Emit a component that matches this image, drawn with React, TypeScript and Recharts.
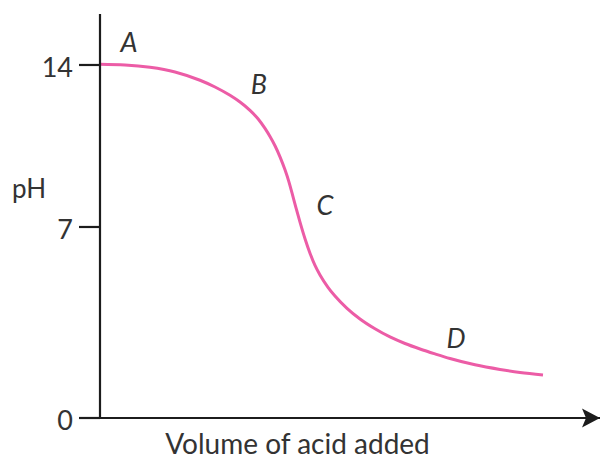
import React from 'react';
import { LineChart, Line, XAxis, YAxis, ReferenceDot } from 'recharts';

// Titration curve
const volume = [0, 5, 10, 15, 20, 23, 26, 28, 30, 31.6, 33, 34, 35, 36, 37, 37.8, 38.4, 39.2, 40, 41, 42, 43, 44, 45.6, 47, 49.4, 52, 55, 58, 61, 64, 67, 70, 75, 80, 84, 88.6];
const ph = [14.03, 14.0, 13.9, 13.7, 13.34, 13.05, 12.69, 12.4, 12.04, 11.68, 11.26, 10.91, 10.51, 10.03, 9.47, 8.94, 8.47, 7.83, 7.21, 6.57, 6.04, 5.59, 5.24, 4.79, 4.47, 4.02, 3.63, 3.27, 2.97, 2.73, 2.53, 2.35, 2.18, 1.95, 1.78, 1.67, 1.58];

const yTicks = [0, 7, 14];
const yTickLabels = ['0', '7', '14'];

const pointLabels = ['A', 'B', 'C', 'D'];
const pointVolume = [5.8, 31.8, 45, 71.2];
const pointPh = [14.95, 13.14, 7.95, 2.93];

const xLabel = 'Volume of acid added';
const yLabel = 'pH';

const data = volume.map((v, i) => ({ volume: v, ph: ph[i] }));

// Non-uniform (piecewise linear) pH scale, as drawn in the original figure
const Y_KNOTS = [0, 7, 14, 16.2];
const Y_FRACS = [0, 0.4728, 0.8738, 1];

function makePiecewiseScale(): any {
  let dom: number[] = [0, 16.2];
  let rng: number[] = [0, 1];
  const frac = (v: number) => {
    const n = Y_KNOTS.length;
    let i = 0;
    if (v <= Y_KNOTS[0]) i = 0;
    else if (v >= Y_KNOTS[n - 1]) i = n - 2;
    else {
      while (i < n - 2 && v > Y_KNOTS[i + 1]) i++;
    }
    const t = (v - Y_KNOTS[i]) / (Y_KNOTS[i + 1] - Y_KNOTS[i]);
    return Y_FRACS[i] + t * (Y_FRACS[i + 1] - Y_FRACS[i]);
  };
  const scale: any = (v: any) => {
    const num = Number(v);
    if (!isFinite(num)) return undefined;
    return rng[0] + (rng[rng.length - 1] - rng[0]) * frac(num);
  };
  scale.domain = (d?: any) => {
    if (d === undefined) return dom.slice();
    dom = Array.from(d).map(Number);
    return scale;
  };
  scale.range = (r?: any) => {
    if (r === undefined) return rng.slice();
    rng = Array.from(r).map(Number);
    return scale;
  };
  scale.copy = () => {
    const s = makePiecewiseScale();
    s.domain(dom);
    s.range(rng);
    return s;
  };
  scale.ticks = () => yTicks.slice();
  scale.tickFormat = () => (v: any) => String(v);
  scale.invert = (px: number) => {
    const f = (px - rng[0]) / (rng[rng.length - 1] - rng[0]);
    const n = Y_FRACS.length;
    let i = 0;
    while (i < n - 2 && f > Y_FRACS[i + 1]) i++;
    const t = (f - Y_FRACS[i]) / (Y_FRACS[i + 1] - Y_FRACS[i]);
    return Y_KNOTS[i] + t * (Y_KNOTS[i + 1] - Y_KNOTS[i]);
  };
  scale.clamp = () => scale;
  scale.nice = () => scale;
  return scale;
}

const yScale = makePiecewiseScale();

const FONT = 'Lato, "DejaVu Sans", sans-serif';
const TEXT = '#333333';
const AXIS = '#1c1c1c';
const PINK = '#EC5CA6';

const renderYTick = (props: any) => {
  const { x, y, payload } = props;
  const idx = yTicks.indexOf(payload.value);
  return (
    <text x={x} y={y} dy={12} textAnchor="end" fontFamily={FONT} fontSize={27} fill={TEXT}>
      {idx >= 0 ? yTickLabels[idx] : payload.value}
    </text>
  );
};

const renderXLabel = (props: any) => {
  const vb = props.viewBox || {};
  return (
    <text x={vb.x + 197.5} y={vb.y + 36} textAnchor="middle" fontFamily={FONT} fontSize={28} fill={TEXT}>
      {xLabel}
    </text>
  );
};

const renderYLabel = (props: any) => {
  const vb = props.viewBox || {};
  return (
    <text x={vb.x + 12} y={198} textAnchor="start" fontFamily={FONT} fontSize={26} fill={TEXT}>
      {yLabel}
    </text>
  );
};

const makePointLabel = (text: string) => (props: any) => {
  const vb = props.viewBox || {};
  const cx = vb.x + (vb.width || 0) / 2;
  const cy = vb.y + (vb.height || 0) / 2;
  return (
    <text x={cx} y={cy} dy={9.5} textAnchor="middle" fontFamily={FONT} fontStyle="italic" fontSize={27} fill={TEXT}>
      {text}
    </text>
  );
};

export default function App() {
  return (
    <div style={{ position: 'absolute', left: 0, top: 0, width: 602, height: 459, background: '#ffffff' }}>
      <LineChart width={602} height={459} data={data} margin={{ top: 14, right: 2, bottom: 0, left: 0 }}>
        <defs>
          <marker id="arrowHead" markerWidth="20" markerHeight="20" refX="18" refY="10" orient="auto" markerUnits="userSpaceOnUse">
            <path d="M0,0.5 L18,10 L0,19.5 L4,10 Z" fill={AXIS} />
          </marker>
        </defs>
        <XAxis
          dataKey="volume"
          type="number"
          domain={[0, 100]}
          tick={false}
          tickLine={false}
          height={41}
          axisLine={{ stroke: AXIS, strokeWidth: 2.2, markerEnd: 'url(#arrowHead)' } as any}
          label={{ content: renderXLabel } as any}
        />
        <YAxis
          type="number"
          domain={[0, 16.2]}
          scale={yScale}
          ticks={yTicks}
          interval={0}
          width={100}
          tickSize={21}
          tickMargin={6}
          tick={renderYTick}
          tickLine={{ stroke: AXIS, strokeWidth: 2.2 }}
          axisLine={{ stroke: AXIS, strokeWidth: 2.2 }}
          label={{ content: renderYLabel } as any}
        />
        <Line
          type="monotone"
          dataKey="ph"
          stroke={PINK}
          strokeWidth={3}
          dot={false}
          activeDot={false}
          isAnimationActive={false}
        />
        {pointLabels.map((p, i) => (
          <ReferenceDot
            key={p}
            x={pointVolume[i]}
            y={pointPh[i]}
            r={0}
            fill="none"
            stroke="none"
            label={{ content: makePointLabel(p) } as any}
          />
        ))}
      </LineChart>
    </div>
  );
}
